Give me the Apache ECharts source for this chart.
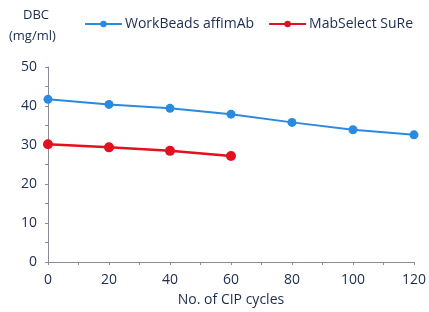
<!DOCTYPE html>
<html>
<head>
<meta charset="utf-8">
<script src="https://cdn.jsdelivr.net/npm/echarts@6/dist/echarts.min.js"></script>
<style>
html,body{margin:0;padding:0;background:#fff;}
#chart{width:429px;height:312px;}
</style>
</head>
<body>
<div id="chart"></div>
<script>
// CIP cycles
var cycles = [0, 20, 40, 60, 80, 100, 120];
// DBC values (mg/ml)
var workBeads = [41.7, 40.4, 39.4, 37.9, 35.8, 33.9, 32.6];
var mabSelect = [30.2, 29.4, 28.5, 27.2];
var seriesNames = ['WorkBeads affimAb', 'MabSelect SuRe'];

function pairs(xs, ys){
	var out = [];
	for(var i=0;i<ys.length;i++){
		out.push([xs[i], ys[i]]);
	}
	return out;
}

var textColor = '#1c2b4f';
var myChart = echarts.init(document.getElementById('chart'));
var option = {
	backgroundColor:'#fff',
	animation:false,
	legend:{
		top:12,
		left:79,
		width:350,
		itemWidth:37,
		itemHeight:8,
		itemGap:14,
		textStyle:{color:textColor, fontFamily:'Open Sans', fontSize:14, padding:[0,0,0,-2]},
		data:seriesNames
	},
	grid:{left:48, right:14, top:67, bottom:50},
	graphic:[
		{type:'text', left:23, top:9, style:{text:'DBC', fill:textColor, font:'13px "Open Sans"'}},
		{type:'text', left:9, top:30, style:{text:'(mg/ml)', fill:textColor, font:'13px "Open Sans"'}}
	],
	xAxis:{
		type:'value',
		min:0, max:120, interval:20,
		name:'No. of CIP cycles',
		nameLocation:'middle',
		nameGap:31,
		nameTextStyle:{color:textColor, fontFamily:'Open Sans', fontSize:14},
		axisLine:{lineStyle:{color:'#8a8a9a'}},
		axisTick:{length:3, lineStyle:{color:'#8a8a9a'}},
		minorTick:{show:true, splitNumber:2, length:3, lineStyle:{color:'#8a8a9a'}},
		axisLabel:{color:textColor, fontFamily:'Open Sans', fontSize:14, fontWeight:500, margin:11},
		splitLine:{show:false}
	},
	yAxis:{
		type:'value',
		min:0, max:50, interval:10,
		axisLine:{show:true, lineStyle:{color:'#8a8a9a'}},
		axisTick:{show:true, length:3, lineStyle:{color:'#8a8a9a'}},
		minorTick:{show:true, splitNumber:2, length:3, lineStyle:{color:'#8a8a9a'}},
		axisLabel:{color:textColor, fontFamily:'Open Sans', fontSize:14, fontWeight:500, margin:11},
		splitLine:{show:false}
	},
	series:[
		{
			name:seriesNames[0],
			type:'line',
			data:pairs(cycles, workBeads),
			symbol:'circle',
			symbolSize:9,
			color:'#2a8ae0',
			lineStyle:{width:2}
		},
		{
			name:seriesNames[1],
			type:'line',
			data:pairs(cycles, mabSelect),
			symbol:'circle',
			symbolSize:10,
			color:'#e3101f',
			lineStyle:{width:2.5}
		}
	]
};
myChart.setOption(option);
</script>
</body>
</html>
